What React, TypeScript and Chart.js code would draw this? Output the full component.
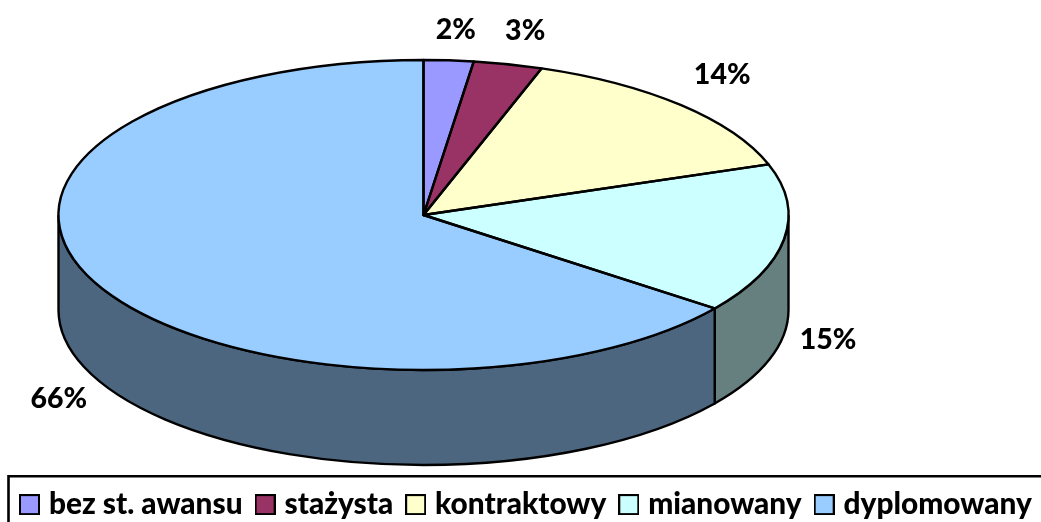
import React, { useEffect, useRef } from "react";
import { Chart, registerables } from "chart.js";

Chart.register(...registerables);

const categories = ["bez st. awansu", "stażysta", "kontraktowy", "mianowany", "dyplomowany"];
const shares = [2.2, 3.05, 14.45, 15.6, 64.7];
const percentLabels = ["2%", "3%", "14%", "15%", "66%"];
const sliceColors = ["#9999FF", "#993366", "#FFFFCC", "#CCFFFF", "#99CCFF"];
const wallColors = ["#4D4D80", "#4D1A33", "#808066", "#668080", "#4D6680"];

const PIE = { cx: 423.5, cy: 215, rx: 365, ry: 155, depth: 95 };
const labelOffsets = [[7, -31], [17, -33], [41, -30], [44, 101], [-38, 115]];
const FONT = "Lato";
const FONT_SIZE = 28.5;
const LEGEND_SIZE = 29.8;

function swatch(color: string) {
  const c = document.createElement("canvas");
  c.width = 21;
  c.height = 21;
  const g = c.getContext("2d")!;
  g.fillStyle = color;
  g.fillRect(1, 1, 19, 19);
  g.strokeStyle = "#000";
  g.lineWidth = 2;
  g.strokeRect(1, 1, 19, 19);
  return c;
}

const pie3d = {
  id: "pie3d",
  beforeDatasetsDraw(chart: any) {
    const ctx = chart.ctx;
    const arcs = chart.getDatasetMeta(0).data;
    ctx.save();
    ctx.lineWidth = 2.4;
    ctx.strokeStyle = "#000";
    arcs.forEach((el: any, i: number) => {
      const a = Math.max(el.startAngle, 0);
      const b = Math.min(el.endAngle, Math.PI);
      if (b <= a) return;
      ctx.beginPath();
      ctx.ellipse(PIE.cx, PIE.cy, PIE.rx, PIE.ry, 0, a, b);
      ctx.ellipse(PIE.cx, PIE.cy + PIE.depth, PIE.rx, PIE.ry, 0, b, a, true);
      ctx.closePath();
      ctx.fillStyle = wallColors[i];
      ctx.fill();
      ctx.stroke();
    });
    ctx.restore();
    const first = arcs[0];
    ctx.save();
    ctx.translate(PIE.cx, PIE.cy);
    ctx.scale(PIE.rx / first.outerRadius, PIE.ry / first.outerRadius);
    ctx.translate(-first.x, -first.y);
  },
  afterDatasetsDraw(chart: any) {
    const ctx = chart.ctx;
    ctx.restore();
    const arcs = chart.getDatasetMeta(0).data;
    ctx.save();
    ctx.lineWidth = 2.4;
    ctx.strokeStyle = "#000";
    ctx.lineJoin = "round";
    arcs.forEach((el: any) => {
      ctx.beginPath();
      ctx.moveTo(PIE.cx, PIE.cy);
      ctx.ellipse(PIE.cx, PIE.cy, PIE.rx, PIE.ry, 0, el.startAngle, el.endAngle);
      ctx.closePath();
      ctx.stroke();
    });
    ctx.fillStyle = "#000";
    ctx.font = `900 ${FONT_SIZE}px ${FONT}`;
    ctx.textAlign = "center";
    ctx.textBaseline = "middle";
    arcs.forEach((el: any, i: number) => {
      const mid = (el.startAngle + el.endAngle) / 2;
      const x = PIE.cx + PIE.rx * Math.cos(mid) + labelOffsets[i][0];
      const y = PIE.cy + PIE.ry * Math.sin(mid) + labelOffsets[i][1];
      ctx.fillText(percentLabels[i], x, y);
    });
    ctx.restore();
  },
  afterDraw(chart: any) {
    const ctx = chart.ctx;
    const lg = chart.legend;
    ctx.save();
    ctx.lineWidth = 2.6;
    ctx.strokeStyle = "#000";
    ctx.beginPath();
    ctx.moveTo(lg.left + 1.5, chart.height);
    ctx.lineTo(lg.left + 1.5, lg.top + 4.5);
    ctx.lineTo(chart.width, lg.top + 4.5);
    ctx.stroke();
    ctx.restore();
  },
};

export default function App() {
  const ref = useRef<HTMLCanvasElement>(null);
  useEffect(() => {
    document.body.style.margin = "0";
    const chart = new Chart(ref.current!, {
      type: "pie",
      data: {
        labels: categories,
        datasets: [
          {
            data: shares,
            backgroundColor: sliceColors,
            borderWidth: 0,
            radius: PIE.rx,
            clip: false,
          } as any,
        ],
      },
      options: {
        animation: false,
        responsive: false,
        layout: { padding: { left: 7, right: -20, top: 0, bottom: -7.5 } },
        plugins: {
          tooltip: { enabled: false },
          legend: {
            position: "bottom",
            align: "start",
            labels: {
              color: "#000",
              font: { family: FONT, size: LEGEND_SIZE, weight: "900" },
              padding: 18,
              boxWidth: 9,
              boxHeight: 21,
              usePointStyle: true,
              generateLabels: () =>
                categories.map((text, i) => ({
                  text,
                  pointStyle: swatch(sliceColors[i]),
                  fillStyle: sliceColors[i],
                  strokeStyle: "#000",
                  lineWidth: 2,
                  hidden: false,
                  index: i,
                })),
            },
          },
        },
      },
      plugins: [pie3d],
    } as any);
    return () => chart.destroy();
  }, []);
  return (
    <div style={{ position: "fixed", left: 0, top: 0, width: 1041, height: 522, overflow: "hidden", background: "#fff" }}>
      <canvas ref={ref} width={1041} height={522} style={{ display: "block" }} />
    </div>
  );
}
